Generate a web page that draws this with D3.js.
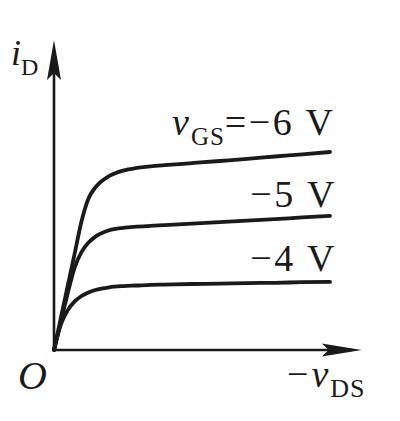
<!DOCTYPE html>
<html><head><meta charset="utf-8">
<script src="https://cdn.jsdelivr.net/npm/d3@7"></script>
<style>body{margin:0;background:#fff}svg{display:block}text{font-family:"Liberation Serif","Times New Roman",serif;fill:#1a1a1a}</style>
</head><body>
<script>
// vDS sample points (arbitrary units) and drain current for each vGS curve
const vDS   = [0, 0.25, 0.5, 0.75, 1.0, 1.25, 1.5, 2.0, 2.5, 3, 3.5, 4, 5, 6, 7, 8, 9, 10];
const iD_m6 = [0, 1.08, 2.15, 3.22, 4.3, 5.05, 5.42, 5.8, 5.98, 6.07, 6.12, 6.16, 6.23, 6.3, 6.37, 6.45, 6.52, 6.6];
const iD_m5 = [0, 0.95, 1.9, 2.75, 3.27, 3.58, 3.78, 3.99, 4.07, 4.11, 4.14, 4.16, 4.21, 4.26, 4.31, 4.36, 4.42, 4.47];
const iD_m4 = [0, 0.85, 1.33, 1.62, 1.8, 1.92, 2.0, 2.09, 2.13, 2.15, 2.17, 2.18, 2.2, 2.21, 2.23, 2.24, 2.26, 2.27];
const curveLabels = ["=\u22126 V", "\u22125 V", "\u22124 V"];
const xAxisEnd = 11.15, yAxisEnd = 10.33;

const W = 400, H = 421;
const svg = d3.select("body").append("svg").attr("width", W).attr("height", H);
const x = d3.scaleLinear().domain([0, 10]).range([54, 330]);
const y = d3.scaleLinear().domain([0, 10]).range([350, 50]);
const ink = "#1a1a1a";

// axes
svg.append("line").attr("x1", x(0)).attr("y1", y(0)).attr("x2", x(xAxisEnd) - 10).attr("y2", y(0))
  .attr("stroke", ink).attr("stroke-width", 2.6);
svg.append("line").attr("x1", x(0)).attr("y1", y(0)).attr("x2", x(0)).attr("y2", y(yAxisEnd) + 10)
  .attr("stroke", ink).attr("stroke-width", 2.6);
// arrowheads
const tx = x(xAxisEnd), ty = y(0);
svg.append("path").attr("d", `M${tx},${ty} L${tx - 40},${ty - 6.5} L${tx - 33},${ty} L${tx - 40},${ty + 6.5} Z`).attr("fill", ink);
const ax = x(0), ay = y(yAxisEnd);
svg.append("path").attr("d", `M${ax},${ay} L${ax - 7},${ay + 40} L${ax},${ay + 33} L${ax + 7},${ay + 40} Z`).attr("fill", ink);

// curves
const line = d3.line().x(d => x(d[0])).y(d => y(d[1])).curve(d3.curveMonotoneX);
[iD_m6, iD_m5, iD_m4].forEach(s => {
  svg.append("path").attr("d", line(vDS.map((v, i) => [v, s[i]])))
    .attr("fill", "none").attr("stroke", ink).attr("stroke-width", 3.8).attr("stroke-linecap", "round");
});

// labels
const t1 = svg.append("text").attr("x", 172).attr("y", 135).attr("font-size", 38);
t1.append("tspan").attr("font-style", "italic").text("v");
t1.append("tspan").attr("font-size", 25).attr("dy", 10).attr("dx", 2).attr("letter-spacing", 1).text("GS");
t1.append("tspan").attr("dy", -10).attr("letter-spacing", 2.5).text(curveLabels[0]);
svg.append("text").attr("x", 337).attr("y", 207).attr("font-size", 38).attr("letter-spacing", 2.5).attr("text-anchor", "end").text(curveLabels[1]);
svg.append("text").attr("x", 337).attr("y", 271).attr("font-size", 38).attr("letter-spacing", 2.5).attr("text-anchor", "end").text(curveLabels[2]);

const ti = svg.append("text").attr("x", 11).attr("y", 65).attr("font-size", 36);
ti.append("tspan").attr("font-style", "italic").text("i");
ti.append("tspan").attr("font-size", 24).attr("dy", 10).text("D");

svg.append("text").attr("x", 18).attr("y", 389).attr("font-size", 40).attr("font-style", "italic").text("O");

const tv = svg.append("text").attr("x", 287).attr("y", 387).attr("font-size", 38);
tv.append("tspan").attr("letter-spacing", 3).text("\u2212");
tv.append("tspan").attr("font-style", "italic").text("v");
tv.append("tspan").attr("font-size", 26).attr("dy", 10).attr("dx", 2).attr("letter-spacing", 1).text("DS");
</script>
</body></html>
